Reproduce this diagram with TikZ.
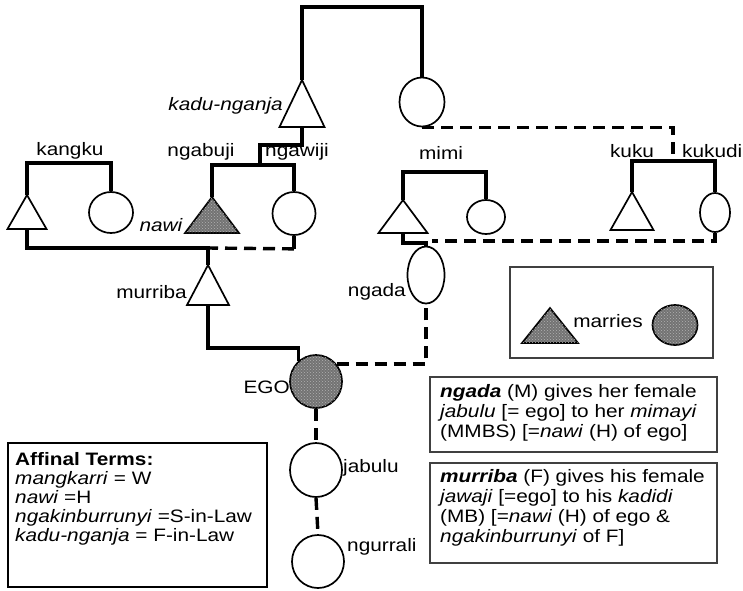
\documentclass[tikz,border=0pt]{standalone}
\usepackage{fontspec}
\setmainfont{Liberation Sans}[FakeStretch=1.155]
\usetikzlibrary{shapes.geometric,patterns}
\tikzset{
  kin/.style={line width=3.4pt},
  marr/.style={line width=3.4pt, dash pattern=on 12pt off 7pt},
  shp/.style={draw, line width=1.7pt, fill=white},
  fem/.style={ellipse, draw, line width=1.7pt, inner sep=0pt, fill=white},
  stip/.style={fill=black!55, postaction={pattern=crosshatch dots, pattern color=black!30}},
  lbl/.style={inner sep=0pt, font=\fontsize{18}{20}\selectfont},
  frame/.style={draw=black!75, line width=1.6pt},
}
\newcommand\kintri[6][]{%
  \draw[shp,#1] (#3,#4) -- (#3-#5,#4+#6) -- (#3+#5,#4+#6) -- cycle;
  \coordinate (#2) at (#3,#4);
  \coordinate (#2-b) at (#3,#4+#6);
}
\begin{document}
\begin{tikzpicture}[x=1pt,y=-1pt]
\useasboundingbox (0,0) rectangle (743,590);

% --- generation of kadu-nganja
\kintri{kadu}{302}{80}{22.5}{47}
\node[fem, minimum width=45pt, minimum height=49pt] (topF) at (422,102) {};
\draw[kin] (kadu) -- ++(0,-73) -| (topF.north);

% --- kadu-nganja's children
\coordinate (kaduJ) at (260,165);
\draw[kin] (kadu-b) -- ++(0,18) -| (kaduJ);
\kintri[stip]{nawi}{212}{197}{27}{36}
\node[fem, minimum width=43pt, minimum height=43pt] (ngawiji) at (294,213.5) {};
\draw[kin] (nawi) |- (kaduJ) -| (ngawiji.north);

% --- kangku
\kintri{kangku}{27}{195}{19.5}{34}
\node[fem, minimum width=44pt, minimum height=41pt] (kangkuW) at (111,212.5) {};
\draw[kin] (kangku) -- ++(0,-32) -| (kangkuW.north);

% --- murriba
\kintri{murriba}{208}{265}{21}{40}
\coordinate (murJ) at (208,248);
\draw[kin] (kangku-b) |- (murJ) -- (murriba);
\draw[kin] (ngawiji.south) -- ++(0,13) coordinate (ngwJ);
\draw[marr] (ngwJ) -- (murJ);

% --- EGO
\node[fem, stip, minimum width=52pt, minimum height=53pt] (ego) at (316,381.5) {};
\draw[kin] (murriba-b) -- ++(0,43) -| (ego.130);

% --- ngada and mimi
\node[fem, minimum width=37pt, minimum height=57pt] (ngada) at (426,275) {};
\draw[marr] (ego.40) -| (ngada.south);
\kintri{mimi}{403}{200}{24.5}{33}
\node[fem, minimum width=38pt, minimum height=34pt] (mimiS) at (486,217) {};
\draw[kin] (mimi) -- ++(0,-28) -| (mimiS.north);
\draw[kin] (mimi-b) -- ++(0,10) -| (ngada.north);

% --- kuku / kukudi
\kintri{kuku}{632}{192}{21.5}{38}
\node[fem, minimum width=30pt, minimum height=39pt] (kukudi) at (715,212.5) {};
\draw[kin] (kuku) -- ++(0,-31) -| (kukudi.north);
\coordinate (kukuBar) at (673,161);
\draw[marr] (topF.south) -| (kukuBar);
\coordinate (mimiD) at (432,241);
\draw[marr] (kukudi.south) |- (mimiD);

% --- descendants of EGO
\node[fem, minimum width=52pt, minimum height=54pt] (jabulu) at (316,470) {};
\node[fem, minimum width=52pt, minimum height=53pt] (ngurrali) at (318,561.5) {};
\draw[marr] (ego.south) -- (jabulu.north);
\draw[marr] (jabulu.south) -- (ngurrali.north);

% --- kin labels
\node[lbl, anchor=base east] (t-kadu) at (283,110) {\textit{kadu-nganja}};
\node[lbl, anchor=base] (t-kangku) at (70,155) {kangku};
\node[lbl, anchor=base] (t-ngabuji) at (201,156) {ngabuji};
\node[lbl, anchor=base] (t-ngawiji) at (297,156) {ngawiji};
\node[lbl, anchor=base east] (t-nawi) at (183,231) {\textit{nawi}};
\node[lbl, anchor=base east] (t-murriba) at (187,298) {murriba};
\node[lbl, anchor=base east] (t-ngada) at (406,296) {ngada};
\node[lbl, anchor=base] (t-mimi) at (441,159) {mimi};
\node[lbl, anchor=base] (t-kuku) at (632,157) {kuku};
\node[lbl, anchor=base west] (t-kukudi) at (682,157) {kukudi};
\node[lbl, anchor=base east] (t-ego) at (290,393) {EGO};
\node[lbl, anchor=base west] (t-jabulu) at (343,472) {jabulu};
\node[lbl, anchor=base west] (t-ngurrali) at (347,551) {ngurrali};

% --- legend
\draw[frame] (510,267) rectangle (713,358);
\kintri[stip]{legT}{550}{308}{28}{35}
\node[lbl, anchor=base] (legtxt) at (608,327) {marries};
\node[fem, stip, minimum width=45pt, minimum height=40pt] (legC) at (675,325) {};

% --- ngada box
\draw[frame] (430,377) rectangle (717,452);
\node[lbl, anchor=base west] (n1) at (440,397) {\textbf{\textit{ngada}} (M) gives her female};
\node[lbl, anchor=base west] (n2) at (440,417) {\textit{jabulu} [= ego] to her \textit{mimayi}};
\node[lbl, anchor=base west] (n3) at (440,437) {(MMBS) [=\textit{nawi} (H) of ego]};

% --- murriba box
\draw[frame] (430,463) rectangle (717,563);
\node[lbl, anchor=base west] (m1) at (440,482) {\textbf{\textit{murriba}} (F) gives his female};
\node[lbl, anchor=base west] (m2) at (440,502) {\textit{jawaji} [=ego] to his \textit{kadidi}};
\node[lbl, anchor=base west] (m3) at (440,522) {(MB) [=\textit{nawi} (H) of ego \&};
\node[lbl, anchor=base west] (m4) at (440,542) {\textit{ngakinburrunyi} of F]};

% --- affinal terms box
\draw[line width=2.4pt] (8,443) rectangle (267,587);
\node[lbl, anchor=base west] (a1) at (15,465) {\textbf{Affinal Terms:}};
\node[lbl, anchor=base west] (a2) at (15,484.2) {\textit{mangkarri} = W};
\node[lbl, anchor=base west] (a3) at (15,503.4) {\textit{nawi} =H};
\node[lbl, anchor=base west] (a4) at (15,522.6) {\textit{ngakinburrunyi} =S-in-Law};
\node[lbl, anchor=base west] (a5) at (15,541.8) {\textit{kadu-nganja} = F-in-Law};
\end{tikzpicture}
\end{document}
